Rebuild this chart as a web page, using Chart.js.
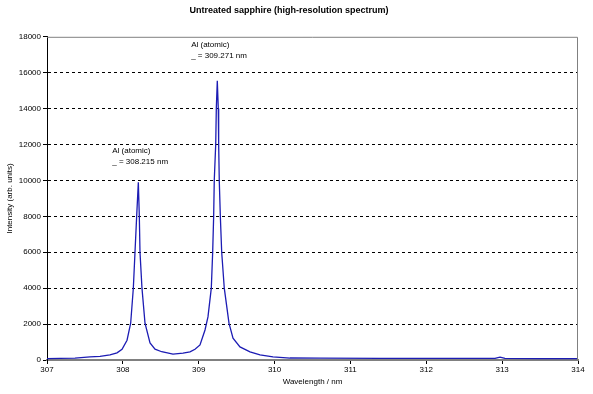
<!DOCTYPE html>
<html>
<head>
<meta charset="utf-8">
<script src="https://cdn.jsdelivr.net/npm/chart.js@4.4.1/dist/chart.umd.min.js"></script>
<style>
  html, body { margin: 0; padding: 0; background: #fff; }
  #wrap { width: 593px; height: 394px; }
</style>
</head>
<body>
<div id="wrap"><canvas id="chart"></canvas></div>
<script>
// wavelength (nm) and intensity
const wavelength = [
  307.000, 307.171, 307.369, 307.567, 307.699, 307.830, 307.923, 307.989,
  308.055, 308.103, 308.138, 308.160, 308.182, 308.204, 308.217, 308.226,
  308.252, 308.292, 308.358, 308.424, 308.512, 308.661, 308.793, 308.885,
  308.951, 309.017, 309.083, 309.122, 309.166, 309.184, 309.197, 309.205,
  309.224, 309.232, 309.245, 309.258, 309.263, 309.271, 309.285, 309.303,
  309.337, 309.399, 309.452, 309.544, 309.676, 309.808, 309.979, 310.203,
  310.599, 311.390, 312.181, 312.906, 312.972, 313.037, 313.499, 314.000
];
const intensity = [
  80, 90, 110, 170, 200, 280, 400, 600,
  1100, 2050, 4000, 6000, 8000, 9900, 8000, 6000,
  4000, 2050, 950, 600, 460, 330, 380, 450,
  600, 840, 1670, 2400, 4000, 6000, 8000, 10000,
  12000, 14000, 15550, 14000, 12000, 10000, 8000, 6000,
  4000, 2050, 1220, 730, 450, 280, 170, 110,
  100, 90, 90, 90, 160, 90, 80, 80
];

// peak annotations: text lines, anchor wavelength and intensity (top-left of text)
const noteLines = [
  ['Al (atomic)', '_ = 308.215 nm'],
  ['Al (atomic)', '_ = 309.271 nm']
];
const noteX = [307.86, 308.90];
const noteY = [11850, 17750];

const points = wavelength.map((w, i) => ({ x: w, y: intensity[i] }));
const FONT = '"Liberation Sans", Arial, sans-serif';

const notesPlugin = {
  id: 'notes',
  afterDatasetsDraw(chart) {
    const { ctx, scales: { x, y }, chartArea } = chart;
    ctx.save();
    // grey frame on top/right of plot area
    ctx.strokeStyle = '#808080';
    ctx.lineWidth = 1;
    ctx.beginPath();
    ctx.moveTo(chartArea.left, chartArea.top + 0.5);
    ctx.lineTo(chartArea.right - 0.5, chartArea.top + 0.5);
    ctx.lineTo(chartArea.right - 0.5, chartArea.bottom);
    ctx.stroke();

    ctx.fillStyle = '#000';
    ctx.font = '8px ' + FONT;
    ctx.textBaseline = 'top';
    ctx.textAlign = 'left';
    noteLines.forEach((lines, i) => {
      const px = x.getPixelForValue(noteX[i]);
      const py = y.getPixelForValue(noteY[i]);
      lines.forEach((t, j) => ctx.fillText(t, px, py + j * 11));
    });
    ctx.restore();
  }
};

new Chart(document.getElementById('chart'), {
  type: 'line',
  data: {
    datasets: [{
      data: points,
      borderColor: '#1c1cb4',
      borderWidth: 1.3,
      pointRadius: 0,
      tension: 0,
      fill: false
    }]
  },
  options: {
    responsive: true,
    maintainAspectRatio: false,
    animation: false,
    layout: { padding: { top: 0, right: 15, left: 0, bottom: 0 } },
    plugins: {
      legend: { display: false },
      tooltip: { enabled: false },
      title: {
        display: true,
        text: 'Untreated sapphire (high-resolution spectrum)',
        color: '#000',
        font: { family: FONT, size: 9, weight: 'bold' },
        padding: { top: 5, bottom: 21 }
      }
    },
    scales: {
      x: {
        type: 'linear',
        min: 307,
        max: 314,
        afterFit: (s) => { s.height = 34; },
        ticks: {
          stepSize: 1,
          color: '#000',
          padding: 1,
          maxRotation: 0,
          callback: (v) => String(v),
          font: { family: FONT, size: 8 }
        },
        grid: {
          drawOnChartArea: false,
          drawTicks: true,
          tickLength: 4,
          tickColor: '#000'
        },
        border: { color: '#808080', width: 2 },
        title: {
          display: true,
          text: 'Wavelength / nm',
          color: '#000',
          padding: { top: 0, bottom: 7 },
          font: { family: FONT, size: 8 }
        }
      },
      y: {
        min: 0,
        max: 18000,
        afterFit: (s) => { s.width = 47; },
        ticks: {
          stepSize: 2000,
          color: '#000',
          padding: 2,
          callback: (v) => String(v),
          font: { family: FONT, size: 8 }
        },
        grid: {
          color: (c) => (c.tick && (c.tick.value === 0 || c.tick.value === 18000)) ? 'rgba(0,0,0,0)' : '#000',
          tickBorderDash: [0, 0],
          tickLength: 4,
          tickColor: '#000',
          lineWidth: 1
        },
        border: { color: '#000', width: 1, dash: [3, 3] },
        title: {
          display: true,
          text: 'Intensity (arb. units)',
          color: '#000',
          padding: { top: 5, bottom: 0 },
          font: { family: FONT, size: 8 }
        }
      }
    }
  },
  plugins: [notesPlugin]
});
</script>
</body>
</html>
